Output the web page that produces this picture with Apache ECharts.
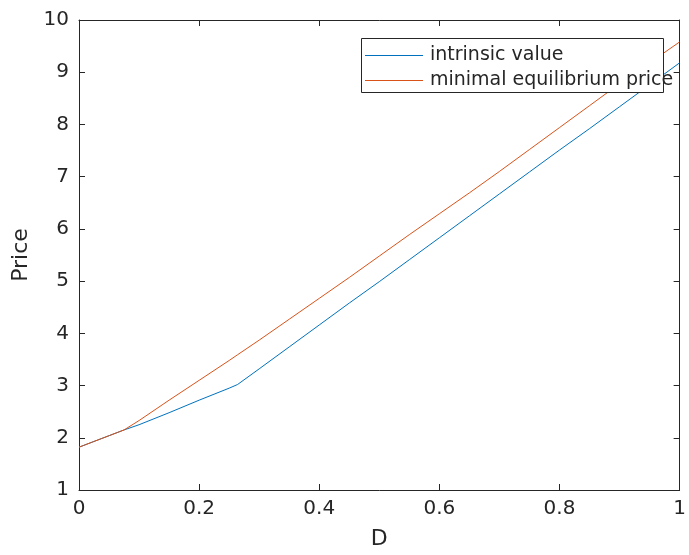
<!DOCTYPE html>
<html>
<head>
<meta charset="utf-8">
<script src="https://cdn.jsdelivr.net/npm/echarts@6/dist/echarts.min.js"></script>
<style>
html,body{margin:0;padding:0;background:#fff;}
#chart{width:689px;height:555px;}
</style>
</head>
<body>
<div id="chart"></div>
<script>
// Data
const dValues = [0, 0.05, 0.075, 0.1, 0.15, 0.2, 0.25, 0.264, 0.3, 0.35, 0.4, 0.45, 0.5, 0.55, 0.6, 0.65, 0.7, 0.75, 0.8, 0.85, 0.9, 0.95, 1.0];
const intrinsicValue = [1.82, 2.04, 2.15, 2.25, 2.48, 2.72, 2.95, 3.02, 3.32, 3.74, 4.16, 4.58, 4.99, 5.41, 5.83, 6.25, 6.67, 7.09, 7.51, 7.92, 8.34, 8.76, 9.18];
const minEquilibriumPrice = [1.82, 2.04, 2.15, 2.33, 2.72, 3.10, 3.48, 3.59, 3.87, 4.27, 4.67, 5.07, 5.48, 5.89, 6.29, 6.69, 7.10, 7.52, 7.94, 8.36, 8.78, 9.18, 9.58];
const seriesNames = ['intrinsic value', 'minimal equilibrium price'];
const xTicks = [0, 0.2, 0.4, 0.6, 0.8, 1];
const yTicks = [1, 2, 3, 4, 5, 6, 7, 8, 9, 10];

const pairs = (ys) => dValues.map((d, i) => [d, ys[i]]);
const axisColor = '#262626';
const font = 'DejaVu Sans';

const chart = echarts.init(document.getElementById('chart'), null, {renderer: 'canvas'});
const baseAxis = {
  axisLine: {show: true, onZero: false, lineStyle: {color: axisColor, width: 1}},
  axisTick: {show: true, inside: true, length: 6, lineStyle: {color: axisColor}},
  splitLine: {show: false}
};
chart.setOption({
  animation: false,
  backgroundColor: '#fff',
  grid: {left: 79, right: 8, top: 20, bottom: 62, containLabel: false},
  xAxis: [
    Object.assign({}, baseAxis, {
      type: 'value', min: 0, max: 1, interval: 0.2, position: 'bottom',
      name: 'D', nameLocation: 'middle', nameGap: 38,
      nameTextStyle: {fontFamily: font, fontSize: 22, color: axisColor},
      axisLabel: {fontFamily: font, fontSize: 20, color: axisColor, margin: 9,
        formatter: v => { const t = xTicks.find(x => Math.abs(x - v) < 1e-9); return t === undefined ? '' : String(t); }}
    }),
    Object.assign({}, baseAxis, {
      type: 'value', min: 0, max: 1, interval: 0.2, position: 'top',
      axisLabel: {show: false}
    })
  ],
  yAxis: [
    Object.assign({}, baseAxis, {
      type: 'value', min: 1, max: 10, interval: 1, position: 'left',
      name: 'Price', nameLocation: 'middle', nameGap: 47,
      nameTextStyle: {fontFamily: font, fontSize: 22, color: axisColor},
      axisLabel: {fontFamily: font, fontSize: 20, color: axisColor, margin: 10,
        formatter: v => { const t = yTicks.find(y => Math.abs(y - v) < 1e-9); return t === undefined ? '' : String(t); }}
    }),
    Object.assign({}, baseAxis, {
      type: 'value', min: 1, max: 10, interval: 1, position: 'right',
      axisLabel: {show: false}
    })
  ],
  legend: {
    orient: 'vertical', left: 365, top: 45, padding: 0, z: 20,
    itemWidth: 58, itemHeight: 1, itemGap: 4,
    data: seriesNames,
    textStyle: {fontFamily: font, fontSize: 19, color: axisColor, lineHeight: 21, padding: [0, 0, 0, 2]},
    icon: 'rect'
  },
  graphic: {
    z: 10,
    elements: [{
      type: 'rect', left: 361, top: 38, z: 10, silent: true,
      shape: {width: 302, height: 54},
      style: {fill: '#ffffff', stroke: axisColor, lineWidth: 1}
    }]
  },
  series: [
    {name: seriesNames[0], type: 'line', z: 2, data: pairs(intrinsicValue), showSymbol: false, symbol: 'none',
     lineStyle: {color: '#0072BD', width: 1}, itemStyle: {color: '#0072BD'}},
    {name: seriesNames[1], type: 'line', z: 2, data: pairs(minEquilibriumPrice), showSymbol: false, symbol: 'none',
     lineStyle: {color: '#D95319', width: 1}, itemStyle: {color: '#D95319'}}
  ]
});
</script>
</body>
</html>
